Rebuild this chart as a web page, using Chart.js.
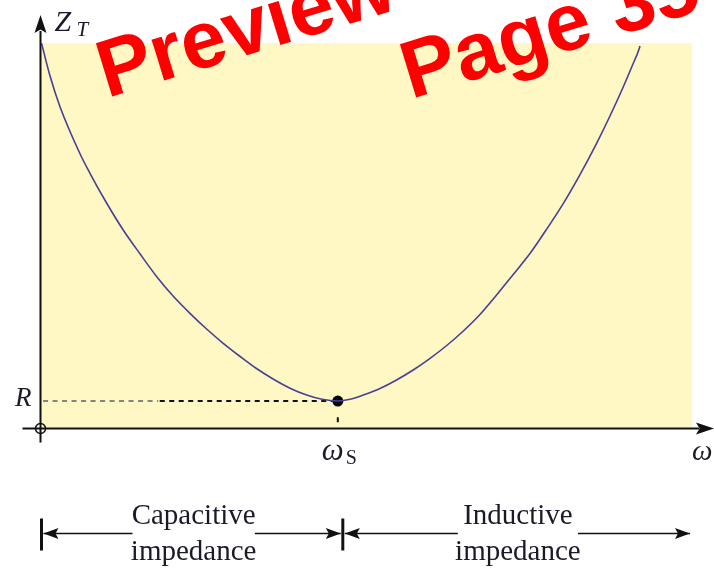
<!DOCTYPE html>
<html>
<head>
<meta charset="utf-8">
<script src="https://cdn.jsdelivr.net/npm/chart.js@4/dist/chart.umd.min.js"></script>
<style>
html,body{margin:0;padding:0;background:#fff;}
canvas{display:block;}
</style>
</head>
<body>
<canvas id="c" width="714" height="569"></canvas>
<script>
// ---- data (ω normalised so that ωS = 1, Z in arbitrary units, R ≈ 0.70) ----
const omega     = [0.002, 0.030, 0.064, 0.131, 0.165, 0.221, 0.277, 0.334, 0.390, 0.445, 0.502, 0.558,
                   0.614, 0.671, 0.726, 0.782, 0.839, 0.895, 0.947, 1.000,
                   1.041, 1.086, 1.142, 1.198, 1.254, 1.311, 1.367, 1.423, 1.479, 1.535, 1.591,
                   1.648, 1.704, 1.760, 1.816, 1.872, 1.917, 1.962, 1.991, 2.016, 2.018];
const impedance = [9.99, 9.156, 8.345, 7.130, 6.616, 5.844, 5.143, 4.519, 3.930, 3.429, 2.979, 2.571,
                   2.200, 1.857, 1.545, 1.273, 1.034, 0.857, 0.745, 0.701,
                   0.745, 0.857, 1.026, 1.247, 1.506, 1.810, 2.143, 2.519, 2.948, 3.455, 3.987,
                   4.538, 5.169, 5.836, 6.584, 7.395, 8.104, 8.865, 9.390, 9.862, 9.922];
const omegaS = 1.0;
const R = 0.70;
const xRange = [0, 2.19];
const yRange = [0, 10];
const axisLabels = { y: ['Z', 'T'], x: 'ω', res: ['ω', 'S'], r: 'R' };
const regionLabels = [['Capacitive', 'impedance'], ['Inductive', 'impedance']];
const watermark = ['Preview', 'Page 35'];

const curveData = omega.map((w, i) => ({ x: w, y: impedance[i] }));

function arrowHead(ctx, x, y, dir, len, half) {
  ctx.beginPath();
  if (dir === 'left') { ctx.moveTo(x, y); ctx.lineTo(x + len, y - half); ctx.lineTo(x + len * 0.8, y); ctx.lineTo(x + len, y + half); }
  else if (dir === 'right') { ctx.moveTo(x, y); ctx.lineTo(x - len, y - half); ctx.lineTo(x - len * 0.8, y); ctx.lineTo(x - len, y + half); }
  else { ctx.moveTo(x, y); ctx.lineTo(x - half, y + len); ctx.lineTo(x, y + len * 0.8); ctx.lineTo(x + half, y + len); }
  ctx.closePath();
  ctx.fill();
}

const bgPlugin = {
  id: 'bg',
  beforeDatasetsDraw(chart) {
    const { ctx, chartArea: a } = chart;
    ctx.save();
    ctx.fillStyle = '#fff8c4';
    ctx.fillRect(a.left, a.top, a.right - a.left + 1, a.bottom - a.top);
    ctx.restore();
  },
  afterDatasetsDraw(chart) {
    const { ctx, chartArea: a } = chart;
    const xs = chart.scales.x, ys = chart.scales.y;
    const x0 = Math.round(xs.getPixelForValue(0)) - 0.5;
    const y0 = Math.round(ys.getPixelForValue(0)) + 0.5;
    const xS = xs.getPixelForValue(omegaS);
    ctx.save();
    ctx.strokeStyle = '#111';
    ctx.fillStyle = '#111';
    ctx.lineWidth = 2;
    // y axis
    ctx.beginPath(); ctx.moveTo(x0, y0 + 14); ctx.lineTo(x0, a.top - 12); ctx.stroke();
    arrowHead(ctx, x0, a.top - 28, 'up', 18, 6);
    // x axis
    ctx.beginPath(); ctx.moveTo(x0 - 18, y0); ctx.lineTo(a.right + 8, y0); ctx.stroke();
    arrowHead(ctx, a.right + 23, y0, 'right', 18, 6);
    // origin circle
    ctx.lineWidth = 1.5;
    ctx.beginPath(); ctx.arc(x0, y0, 5, 0, Math.PI * 2); ctx.stroke();

    // labels
    ctx.fillStyle = '#1a1a2a';
    ctx.textBaseline = 'alphabetic';
    ctx.textAlign = 'left';
    ctx.font = 'italic 30px "Liberation Serif"';
    ctx.fillText(axisLabels.y[0], x0 + 14, a.top - 12);
    ctx.font = 'italic 21px "Liberation Serif"';
    ctx.fillText(axisLabels.y[1], x0 + 36, a.top - 7);
    ctx.font = 'italic 27px "Liberation Serif"';
    ctx.textAlign = 'right';
    ctx.fillText(axisLabels.r, x0 - 9, ys.getPixelForValue(R) + 5);
    // ωS
    ctx.textAlign = 'left';
    ctx.font = 'italic 31px "Liberation Serif"';
    ctx.fillText(axisLabels.res[0], xS - 16, y0 + 31);
    ctx.font = '20px "Liberation Serif"';
    ctx.fillText(axisLabels.res[1], xS + 8, y0 + 35);
    ctx.font = 'italic 29px "Liberation Serif"';
    ctx.fillText(axisLabels.x, a.right + 1, y0 + 31);

    // region annotation
    const yA = y0 + 105;
    const xL = x0 + 1, xM = xS + 5, xR = a.right - 1;
    ctx.fillStyle = '#111';
    ctx.strokeStyle = '#111';
    ctx.lineWidth = 3;
    ctx.beginPath(); ctx.moveTo(xL, yA - 15); ctx.lineTo(xL, yA + 17); ctx.stroke();
    ctx.beginPath(); ctx.moveTo(xM, yA - 15); ctx.lineTo(xM, yA + 17); ctx.stroke();
    ctx.lineWidth = 1.6;
    const segs = [[xL + 2, xL + 91, 'left'], [xM - 88, xM - 2, 'right'], [xM + 2, xM + 115, 'left'], [xR - 112, xR, 'right']];
    segs.forEach(([s, e, d]) => {
      ctx.beginPath(); ctx.moveTo(s, yA); ctx.lineTo(e, yA); ctx.stroke();
      if (d === 'left') arrowHead(ctx, s, yA, 'left', 15, 5.5);
      else arrowHead(ctx, e, yA, 'right', 15, 5.5);
    });
    ctx.fillStyle = '#1a1a2a';
    ctx.font = '29px "Liberation Serif"';
    ctx.textAlign = 'center';
    const c1 = (xL + 91 + xM - 88) / 2, c2 = (xM + 115 + xR - 112) / 2;
    ctx.fillText(regionLabels[0][0], c1, yA - 10);
    ctx.fillText(regionLabels[0][1], c1, yA + 26);
    ctx.fillText(regionLabels[1][0], c2, yA - 10);
    ctx.fillText(regionLabels[1][1], c2, yA + 26);
    ctx.restore();
  },
  afterDraw(chart) {
    const ctx = chart.ctx;
    ctx.save();
    ctx.fillStyle = '#ff0000';
    ctx.font = 'bold 81px "Liberation Sans"';
    ctx.textAlign = 'left';
    ctx.textBaseline = 'alphabetic';
    const ang = -17 * Math.PI / 180;
    [[watermark[0], 107, 98], [watermark[1], 411, 99]].forEach(([t, x, y]) => {
      ctx.save();
      ctx.translate(x, y);
      ctx.rotate(ang);
      ctx.fillText(t, 0, 0);
      ctx.restore();
    });
    ctx.restore();
  }
};

new Chart(document.getElementById('c'), {
  type: 'line',
  data: {
    datasets: [
      { data: curveData, borderColor: '#4a3f93', borderWidth: 1.6, pointRadius: 0,
        cubicInterpolationMode: 'monotone', clip: false, fill: false },
      { data: [{ x: 0.007, y: R }, { x: 0.395, y: R }], borderColor: '#858579', borderWidth: 2,
        borderDash: [5, 4.5], pointRadius: 0, clip: false },
      { data: [{ x: 0.40, y: R }, { x: 0.985, y: R }], borderColor: '#111', borderWidth: 2,
        borderDash: [5, 4.5], pointRadius: 0, clip: false },
      { data: [{ x: omegaS, y: 0.28 }, { x: omegaS, y: 0.15 }], borderColor: '#111', borderWidth: 2,
        pointRadius: 0, clip: false },
      { data: [{ x: omegaS, y: R }], showLine: false, pointRadius: 5.5, pointBackgroundColor: '#000',
        pointBorderColor: '#000', pointBorderWidth: 0, clip: false }
    ]
  },
  options: {
    responsive: false,
    animation: false,
    devicePixelRatio: 1,
    layout: { padding: { left: 41, right: 23, top: 43, bottom: 141 } },
    plugins: { legend: { display: false }, tooltip: { enabled: false } },
    scales: {
      x: { type: 'linear', min: xRange[0], max: xRange[1], display: false },
      y: { type: 'linear', min: yRange[0], max: yRange[1], display: false }
    }
  },
  plugins: [bgPlugin]
});
</script>
</body>
</html>
